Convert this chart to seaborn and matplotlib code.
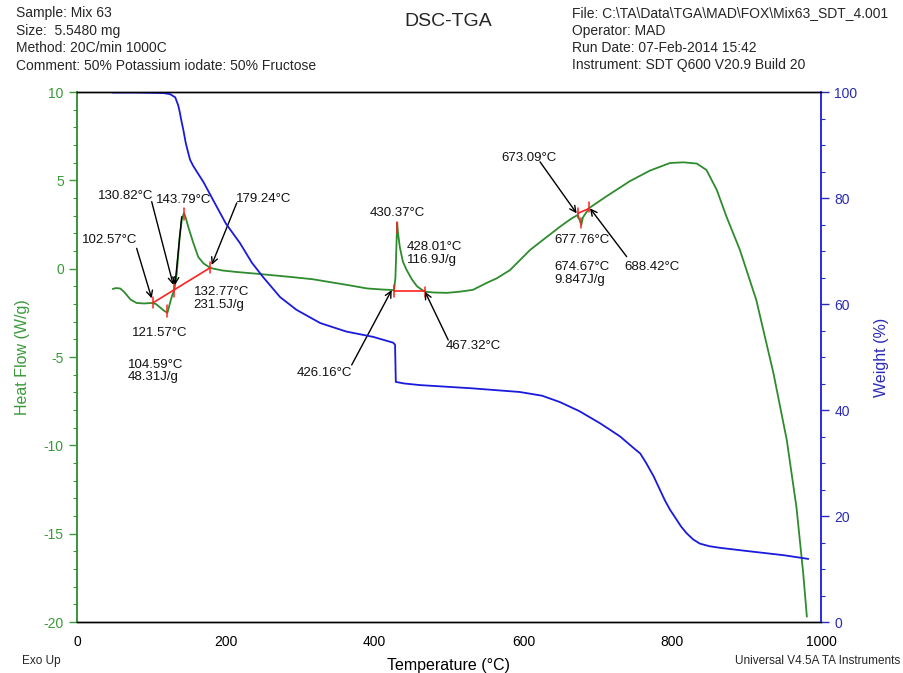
import matplotlib
matplotlib.use("Agg")
import matplotlib.pyplot as plt
from matplotlib.ticker import MultipleLocator
import seaborn as sns

# ---------------- data ----------------
temp_hf = [48, 52, 58, 63, 67, 72, 80, 90, 101, 106, 111, 116, 121.57, 125, 128,
           130.82, 134, 138, 141, 143.79, 146, 150, 156, 163, 170, 179.24, 195,
           215, 240, 260, 290, 317, 340, 363, 390, 410, 421, 426.16, 428, 429.5,
           430.37, 431.5, 434, 438, 443, 450, 457, 467.32, 480, 497, 515, 532,
           551, 564, 582, 609, 630, 650, 665, 673.09, 676, 677.76, 680, 688.42,
           710, 743, 770, 797, 815, 833, 846, 860, 873, 891, 913, 936, 954, 967,
           976, 981]
heat_flow = [-1.15, -1.1, -1.12, -1.3, -1.5, -1.75, -1.94, -1.97, -1.94, -2.0,
             -2.17, -2.35, -2.5, -1.94, -1.5, -1.2, -0.3, 1.8, 2.8, 3.15, 2.9,
             2.3, 1.5, 0.66, 0.3, 0.04, -0.1, -0.19, -0.28, -0.36, -0.48, -0.6,
             -0.76, -0.92, -1.12, -1.18, -1.2, -1.22, -0.5, 1.5, 2.6, 2.0, 1.2,
             0.4, -0.07, -0.6, -1.0, -1.3, -1.35, -1.37, -1.3, -1.2, -0.8, -0.55,
             -0.08, 1.06, 1.75, 2.4, 2.85, 3.04, 2.7, 2.47, 2.9, 3.43, 4.05, 4.95,
             5.55, 5.98, 6.02, 5.95, 5.59, 4.45, 2.94, 1.06, -1.77, -5.9, -9.7,
             -13.5, -17.2, -19.7]

temp_w = [48, 80, 116, 125, 132, 136, 138, 140, 143, 146, 149, 152, 156, 160, 170,
          183, 200, 219, 235, 250, 273, 295, 327, 362, 398, 425, 427.5, 428.5,
          440, 461, 530, 595, 625, 649, 675, 703, 715, 730, 740, 750, 757, 765,
          775, 790, 797, 805, 812, 819, 828, 837, 850, 864, 900, 950, 983]
weight = [99.9, 99.9, 99.8, 99.6, 99.0, 97.5, 96.3, 94.8, 92.8, 90.5, 88.8, 87.2,
          86.1, 85.2, 83.0, 79.6, 75.2, 71.5, 67.8, 65.1, 61.3, 58.9, 56.4, 54.8,
          53.8, 52.7, 52.3, 45.3, 45.0, 44.7, 44.1, 43.4, 42.7, 41.5, 39.8, 37.5,
          36.4, 35.0, 33.8, 32.6, 31.8, 30.0, 27.5, 23.0, 21.2, 19.5, 18.0, 16.8,
          15.6, 14.8, 14.3, 14.0, 13.4, 12.6, 11.9]

# annotation texts and their positions (T, heat flow)
ann_labels = ["102.57°C", "130.82°C", "143.79°C", "179.24°C", "132.77°C\n231.5J/g",
              "121.57°C", "104.59°C\n48.31J/g", "430.37°C", "428.01°C\n116.9J/g",
              "426.16°C", "467.32°C", "673.09°C", "677.76°C", "674.67°C\n9.847J/g",
              "688.42°C"]
ann_x = [44.4, 65.9, 143, 251, 157, 111.6, 68.5, 430.8, 443.5, 332.7, 533, 607,
         641, 641, 773.5]
ann_y = [1.62, 4.11, 3.89, 3.94, -1.68, -3.64, -5.79, 3.17, 0.86, -5.89, -4.38,
         6.26, 1.62, -0.27, 0.11]
ann_ha = ["center", "center", "center", "center", "left", "center", "left",
          "center", "left", "center", "center", "center", "left", "left", "center"]

# arrows: tail -> head (T, heat flow)
arrow_tail_x = [80.2, 100.4, 140.7, 214.7, 369.2, 499, 622.3, 738.8]
arrow_tail_y = [1.15, 3.79, 2.94, 3.72, -5.45, -4.04, 6.05, 0.68]
arrow_head_x = [100.4, 129.4, 131.7, 181, 423, 467.7, 671.6, 689.5]
arrow_head_y = [-1.68, -0.92, -0.92, 0.21, -1.21, -1.3, 3.13, 3.42]

# red analysis marks
mark_t = [102.57, 130.82, 179.24, 121.57, 143.79, 426.16, 467.32, 430.37,
          673.09, 677.76, 688.42]
mark_lo = [-2.25, -1.6, -0.25, -2.73, 2.75, -1.58, -1.58, 2.02, 2.87, 2.3, 3.22]
mark_hi = [-1.6, -0.8, 0.38, -2.05, 3.43, -0.92, -1.02, 2.66, 3.43, 2.87, 3.79]
base_t0 = [102.57, 426.16, 673.09]
base_h0 = [-1.92, -1.26, 3.13]
base_t1 = [179.24, 467.32, 688.42]
base_h1 = [0.06, -1.26, 3.41]

header_left = ["Sample: Mix 63", "Size:  5.5480 mg", "Method: 20C/min 1000C",
               "Comment: 50% Potassium iodate: 50% Fructose"]
header_right = ["File: C:\\TA\\Data\\TGA\\MAD\\FOX\\Mix63_SDT_4.001",
                "Operator: MAD", "Run Date: 07-Feb-2014 15:42",
                "Instrument: SDT Q600 V20.9 Build 20"]

GREEN = "#2e8b2e"
GREEN_T = "#3a9a3a"
BLUE = "#1a1adc"
BLUE_T = "#2a2ab8"
RED = "#ff2020"

# ---------------- style ----------------
sns.set_style("white")
plt.rcParams['font.family'] = ['Liberation Sans', 'DejaVu Sans']
plt.rcParams['axes.unicode_minus'] = False

W, H = 904, 673
fig = plt.figure(figsize=(W / 100, H / 100), dpi=100)
ax = fig.add_axes([77 / W, 1 - 622 / H, (821 - 77) / W, (622 - 92) / H])

sns.lineplot(x=temp_hf, y=heat_flow, ax=ax, color=GREEN, lw=1.3,
             estimator=None, sort=False)
ax.set_xlim(0, 1000)
ax.set_ylim(-20, 10)

ax2 = ax.twinx()
sns.lineplot(x=temp_w, y=weight, ax=ax2, color=BLUE, lw=1.3,
             estimator=None, sort=False)
ax2.set_ylim(0, 100)

# red analysis marks
for t, lo, hi in zip(mark_t, mark_lo, mark_hi):
    ax.plot([t, t], [lo, hi], color=RED, lw=1.1, zorder=4)
for t0, h0, t1, h1 in zip(base_t0, base_h0, base_t1, base_h1):
    ax.plot([t0, t1], [h0, h1], color=RED, lw=1.2, zorder=4)

# arrows
for tx, ty, hx, hy in zip(arrow_tail_x, arrow_tail_y, arrow_head_x, arrow_head_y):
    ax.annotate("", xy=(hx, hy), xytext=(tx, ty),
                arrowprops=dict(arrowstyle="->", color="black", lw=1.0,
                                shrinkA=0, shrinkB=0, mutation_scale=11),
                zorder=5)

for lab, x, y, ha in zip(ann_labels, ann_x, ann_y, ann_ha):
    ax.text(x, y, lab, ha=ha, va="center", fontsize=9.5, color="#111111",
            linespacing=1.1, zorder=6)

# axes styling
ax.xaxis.set_major_locator(MultipleLocator(200))
ax.xaxis.set_minor_locator(MultipleLocator(50))
ax.yaxis.set_major_locator(MultipleLocator(5))
ax.yaxis.set_minor_locator(MultipleLocator(1))
ax2.yaxis.set_major_locator(MultipleLocator(20))
ax2.yaxis.set_minor_locator(MultipleLocator(5))

ax.tick_params(axis="x", which="both", direction="out", colors="black",
               labelsize=10)
ax.tick_params(axis="x", which="major", length=6, width=1)
ax.tick_params(axis="x", which="minor", length=3, width=0.8)
ax.tick_params(axis="y", which="both", direction="out", colors=GREEN_T,
               labelsize=10)
ax.tick_params(axis="y", which="major", length=6, width=1)
ax.tick_params(axis="y", which="minor", length=3, width=0.8)
ax2.tick_params(axis="y", which="both", direction="out", colors=BLUE_T,
                labelsize=10)
ax2.tick_params(axis="y", which="major", length=6, width=1)
ax2.tick_params(axis="y", which="minor", length=3, width=0.8)

for a in (ax, ax2):
    a.spines["top"].set_color("black")
    a.spines["bottom"].set_color("black")
    a.spines["top"].set_linewidth(1)
    a.spines["bottom"].set_linewidth(1)
ax.spines["left"].set_color(GREEN)
ax.spines["left"].set_linewidth(1.3)
ax.spines["right"].set_visible(False)
ax2.spines["left"].set_visible(False)
ax2.spines["right"].set_color(BLUE)
ax2.spines["right"].set_linewidth(1.3)

ax.set_xlabel("Temperature (°C)", fontsize=11.5, color="black", labelpad=6)
ax.set_ylabel("Heat Flow (W/g)", fontsize=11.5, color=GREEN_T, labelpad=10)
ax2.set_ylabel("Weight (%)", fontsize=11.5, color=BLUE_T, labelpad=12)

# header
ys = [13, 31, 48.5, 65.5]
for txt, y in zip(header_left, ys):
    fig.text(16 / W, 1 - y / H, txt, fontsize=10, va="center", ha="left")
for txt, y in zip(header_right, ys):
    fig.text(572 / W, 1 - y / H, txt, fontsize=10, va="center", ha="left")
fig.text(448 / W, 1 - 21 / H, "DSC-TGA", fontsize=14, va="center", ha="center")

fig.text(22 / W, 1 - 661 / H, "Exo Up", fontsize=8.5, va="center", ha="left")
fig.text(900 / W, 1 - 661 / H, "Universal V4.5A TA Instruments", fontsize=8.5,
         va="center", ha="right")

fig.savefig("out.png", dpi=100)
